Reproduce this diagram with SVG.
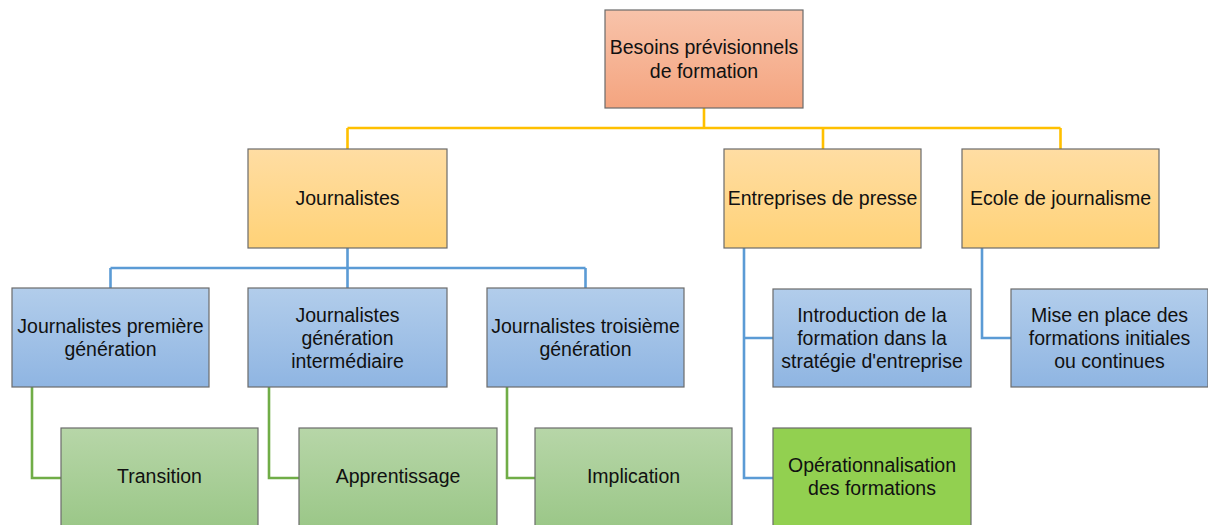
<svg xmlns="http://www.w3.org/2000/svg" width="1208" height="525" viewBox="0 0 1208 525">
<defs>
<linearGradient id="gO" x1="0" y1="0" x2="0" y2="1"><stop offset="0" stop-color="#F8C3AA"/><stop offset="1" stop-color="#F4A47F"/></linearGradient>
<linearGradient id="gY" x1="0" y1="0" x2="0" y2="1"><stop offset="0" stop-color="#FFDDA3"/><stop offset="1" stop-color="#FFD277"/></linearGradient>
<linearGradient id="gB" x1="0" y1="0" x2="0" y2="1"><stop offset="0" stop-color="#B2CDEB"/><stop offset="1" stop-color="#8FB5E2"/></linearGradient>
<linearGradient id="gG" x1="0" y1="0" x2="0" y2="1"><stop offset="0" stop-color="#B7D6A8"/><stop offset="1" stop-color="#9BC788"/></linearGradient>
</defs>
<style>
.box{stroke:#6B6B6B;stroke-width:1.2}
.o{fill:url(#gO)}.y{fill:url(#gY)}.b{fill:url(#gB)}.g{fill:url(#gG)}.s{fill:#92D050}
text{font-family:"Liberation Sans",Arial,sans-serif;font-size:19.5px;fill:#111;text-anchor:middle}
.cy{stroke:#FFC000;stroke-width:2.6;fill:none}
.cb{stroke:#5B9BD5;stroke-width:2.6;fill:none}
.cg{stroke:#70AD47;stroke-width:2.6;fill:none}
</style>
<g id="connectors">
<path class="cy" d="M704 108V128M347.5 128H1060.5M347.5 128V149M823 128V149M1060.5 128V149"/>
<path class="cb" d="M347.5 248V288M110.5 268H585.5M110.5 268V288M585.5 268V288"/>
<path class="cb" d="M744 248V478H773M744 338H773"/>
<path class="cb" d="M982 248V338H1011"/>
<path class="cg" d="M32 387V478H61"/>
<path class="cg" d="M269 387V478H299"/>
<path class="cg" d="M507 387V478H535"/>
</g>
<g id="root"><rect class="box o" x="605" y="10" width="198" height="98"/><text x="704" y="54">Besoins prévisionnels</text><text x="704" y="78">de formation</text></g>
<g id="journalistes"><rect class="box y" x="248" y="149" width="199" height="99"/><text x="347.5" y="205">Journalistes</text></g>
<g id="entreprises"><rect class="box y" x="724" y="149" width="197" height="99"/><text x="822.5" y="205">Entreprises de presse</text></g>
<g id="ecole"><rect class="box y" x="962" y="149" width="197" height="99"/><text x="1060.5" y="205">Ecole de journalisme</text></g>
<g id="j1"><rect class="box b" x="12" y="288" width="197" height="99"/><text x="110.5" y="333">Journalistes première</text><text x="110.5" y="356">génération</text></g>
<g id="j2"><rect class="box b" x="248" y="288" width="199" height="99"/><text x="347.5" y="322">Journalistes</text><text x="347.5" y="345">génération</text><text x="347.5" y="368">intermédiaire</text></g>
<g id="j3"><rect class="box b" x="487" y="288" width="197" height="99"/><text x="585.5" y="333">Journalistes troisième</text><text x="585.5" y="356">génération</text></g>
<g id="intro"><rect class="box b" x="773" y="289" width="198" height="98"/><text x="872" y="322">Introduction de la</text><text x="872" y="345">formation dans la</text><text x="872" y="368">stratégie d'entreprise</text></g>
<g id="mise"><rect class="box b" x="1011" y="289" width="197" height="98"/><text x="1109.5" y="322">Mise en place des</text><text x="1109.5" y="345">formations initiales</text><text x="1109.5" y="368">ou continues</text></g>
<g id="transition"><rect class="box g" x="61" y="428" width="197" height="99"/><text x="159.5" y="483">Transition</text></g>
<g id="apprentissage"><rect class="box g" x="299" y="428" width="198" height="99"/><text x="398" y="483">Apprentissage</text></g>
<g id="implication"><rect class="box g" x="535" y="428" width="197" height="99"/><text x="633.5" y="483">Implication</text></g>
<g id="operationnalisation"><rect class="box s" x="773" y="428" width="198" height="99"/><text x="872" y="472">Opérationnalisation</text><text x="872" y="495">des formations</text></g>
</svg>
